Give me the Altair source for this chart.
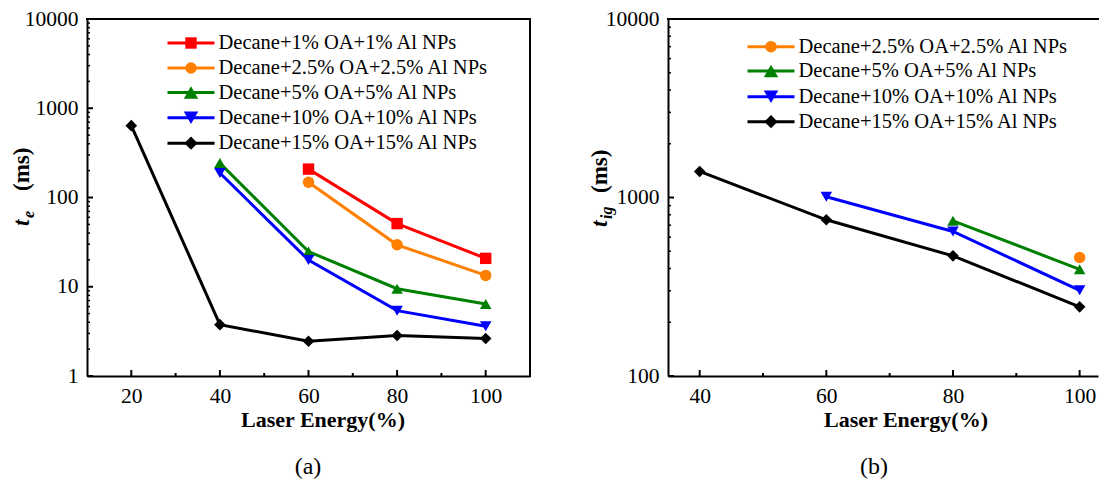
import altair as alt
import pandas as pd

# ---------------- data ----------------
energy_a = [20, 40, 60, 80, 100]
series_a = ["Decane+1% OA+1% Al NPs", "Decane+2.5% OA+2.5% Al NPs",
            "Decane+5% OA+5% Al NPs", "Decane+10% OA+10% Al NPs",
            "Decane+15% OA+15% Al NPs"]
te_1 = [None, None, 208, 51, 20.8]
te_2_5 = [None, None, 148, 29.5, 13.4]
te_5 = [None, 243, 24.8, 9.5, 6.4]
te_10 = [None, 188, 19.9, 5.4, 3.6]
te_15 = [638, 3.76, 2.45, 2.84, 2.63]

energy_b = [40, 60, 80, 100]
series_b = ["Decane+2.5% OA+2.5% Al NPs", "Decane+5% OA+5% Al NPs",
            "Decane+10% OA+10% Al NPs", "Decane+15% OA+15% Al NPs"]
tig_2_5 = [None, None, None, 461]
tig_5 = [None, None, 740, 396]
tig_10 = [None, 1009, 645, 302]
tig_15 = [1399, 750, 471, 244]

x_major_a = [20, 40, 60, 80, 100]
x_minor_a = [30, 50, 70, 90]
y_major_a = [1, 10, 100, 1000, 10000]
x_major_b = [40, 60, 80, 100]
x_minor_b = [50, 70, 90]
y_major_b = [100, 1000, 10000]

# style lookups per series
STYLE = {
    "Decane+1% OA+1% Al NPs": ("#FF0000", "square", 130),
    "Decane+2.5% OA+2.5% Al NPs": ("#FF8000", "circle", 135),
    "Decane+5% OA+5% Al NPs": ("#008000", "triangle-up", 210),
    "Decane+10% OA+10% Al NPs": ("#0000FF", "triangle-down", 210),
    "Decane+15% OA+15% Al NPs": ("#000000", "diamond", 175),
}

FONT = "Liberation Serif"


def long_df(energy, names, columns):
    rows = []
    for name, col in zip(names, columns):
        for e, v in zip(energy, col):
            if v is not None:
                rows.append({"energy": e, "value": v, "series": name})
    return pd.DataFrame(rows)


def minor_log(lo, hi):
    out = []
    d = lo
    while d < hi:
        for k in range(2, 10):
            out.append(d * k)
        d *= 10
    return out


def panel(df, names, x_domain, y_domain, width, height, x_major, x_minor,
          y_major, legend_x0, legend_rows, sub_text, title_pos, xtitle_x, caption,
          caption_x, draw_right=True):
    colors = [STYLE[n][0] for n in names]
    shapes = [STYLE[n][1] for n in names]
    sizes = [STYLE[n][2] for n in names]
    xs = alt.Scale(domain=x_domain, nice=False, zero=False)
    ys = alt.Scale(type="log", domain=y_domain, nice=False)
    xaxis = alt.Axis(values=x_major, title=None, ticks=False, tickSize=0,
                     labelPadding=9, grid=False, domainWidth=2, domainColor="black")
    yaxis = alt.Axis(values=y_major, format="d", title=None, ticks=False,
                     tickSize=0, labelPadding=9, grid=False, domainWidth=2,
                     domainColor="black")
    xq = lambda f: alt.X(f"{f}:Q", scale=xs, axis=xaxis)
    yq = lambda f: alt.Y(f"{f}:Q", scale=ys, axis=yaxis)
    X = xq("energy")
    Y = yq("value")
    C = alt.Color("series:N", scale=alt.Scale(domain=names, range=colors), legend=None)
    S = alt.Shape("series:N", scale=alt.Scale(domain=names, range=shapes), legend=None)
    Z = alt.Size("series:N", scale=alt.Scale(domain=names, range=sizes), legend=None)

    base = alt.Chart(df)
    lines = base.mark_line(strokeWidth=3).encode(x=X, y=Y, color=C, order="energy:Q")
    points = base.mark_point(filled=True, opacity=1).encode(x=X, y=Y, color=C, shape=S, size=Z)

    # inward ticks
    tx_major = alt.Chart(pd.DataFrame({"t": x_major})).mark_rule(strokeWidth=2, color="black").encode(
        x=xq("t"), y=alt.value(height), y2=alt.value(height - 6))
    tx_minor = alt.Chart(pd.DataFrame({"t": x_minor})).mark_rule(strokeWidth=2, color="black").encode(
        x=xq("t"), y=alt.value(height), y2=alt.value(height - 3))
    ty_major = alt.Chart(pd.DataFrame({"t": y_major})).mark_rule(strokeWidth=2, color="black").encode(
        y=yq("t"), x=alt.value(0), x2=alt.value(6))
    ty_minor = alt.Chart(pd.DataFrame({"t": minor_log(y_domain[0], y_domain[1])})).mark_rule(
        strokeWidth=1.5, color="black").encode(y=yq("t"), x=alt.value(0), x2=alt.value(3))

    frame = [alt.Chart(pd.DataFrame({"k": [0]})).mark_rule(strokeWidth=2, color="black", strokeCap="square").encode(
        x=alt.value(0), x2=alt.value(width), y=alt.value(0))]
    if draw_right:
        frame.append(alt.Chart(pd.DataFrame({"k": [0]})).mark_rule(strokeWidth=2, color="black", strokeCap="square").encode(
            x=alt.value(width), y=alt.value(0), y2=alt.value(height)))

    # custom legend
    leg = []
    for name, ry in zip(names, legend_rows):
        c, sh, sz = STYLE[name]
        d = pd.DataFrame({"series": [name]})
        leg.append(alt.Chart(d).mark_rule(strokeWidth=3, color=c).encode(
            x=alt.value(legend_x0), x2=alt.value(legend_x0 + 47), y=alt.value(ry)))
        leg.append(alt.Chart(d).mark_point(filled=True, opacity=1, shape=sh, size=sz, color=c).encode(
            x=alt.value(legend_x0 + 23.5), y=alt.value(ry)))
        leg.append(alt.Chart(d).mark_text(align="left", baseline="middle", font=FONT, fontSize=20.5,
                                          color="black").encode(
            x=alt.value(legend_x0 + 51), y=alt.value(ry), text="series:N"))

    # titles
    tx, ty_t, ty_s, ty_ms = title_pos
    one = pd.DataFrame({"k": [0]})
    ytitle = [
        alt.Chart(one).mark_text(text="t", angle=270, align="left", baseline="middle", font=FONT,
                                 fontSize=23, fontWeight="bold", fontStyle="italic", color="black").encode(
            x=alt.value(tx), y=alt.value(ty_t)),
        alt.Chart(one).mark_text(text=sub_text, angle=270, align="left", baseline="middle", font=FONT,
                                 fontSize=16, fontWeight="bold", fontStyle="italic", color="black").encode(
            x=alt.value(tx + 7), y=alt.value(ty_s)),
        alt.Chart(one).mark_text(text="(ms)", angle=270, align="left", baseline="middle", font=FONT,
                                 fontSize=23, fontWeight="bold", color="black").encode(
            x=alt.value(tx), y=alt.value(ty_ms)),
    ]
    xtitle = alt.Chart(one).mark_text(text="Laser Energy(%)", align="center", baseline="middle", font=FONT,
                                      fontSize=22, fontWeight="bold", color="black").encode(
        x=alt.value(xtitle_x), y=alt.value(height + 44))
    cap = alt.Chart(one).mark_text(text=caption, align="center", baseline="middle", font=FONT,
                                   fontSize=24, color="black").encode(
        x=alt.value(caption_x), y=alt.value(height + 91))

    return alt.layer(lines, points, tx_major, tx_minor, ty_major, ty_minor, *frame, *leg,
                     *ytitle, xtitle, cap).properties(width=width, height=height)


df_a = long_df(energy_a, series_a, [te_1, te_2_5, te_5, te_10, te_15])
df_b = long_df(energy_b, series_b, [tig_2_5, tig_5, tig_10, tig_15])

pa = panel(df_a, series_a, [10, 110], [1, 10000], 443, 357, x_major_a, x_minor_a, y_major_a,
           80.5, [24, 49, 73.5, 98.7, 124.2], "e", (-64.7, 207, 199, 172), 236, "(a)", 221)
pb = panel(df_b, series_b, [35, 102.9], [100, 10000], 430, 357, x_major_b, x_minor_b, y_major_b,
           79.5, [27.7, 52, 77.7, 102.7], "ig", (-67.7, 208, 200, 174), 238, "(b)", 206,
           draw_right=False)

chart = alt.hconcat(pa, pb, spacing=57).properties(
    padding={"left": 3, "top": 0, "right": 0, "bottom": 0}
).configure_view(stroke=None).configure_axis(
    labelFont=FONT, labelFontSize=21.5, labelColor="black", labelFlush=False, labelOverlap=False
)

chart.save("out.html", embed_options={"renderer": "svg", "actions": False})
